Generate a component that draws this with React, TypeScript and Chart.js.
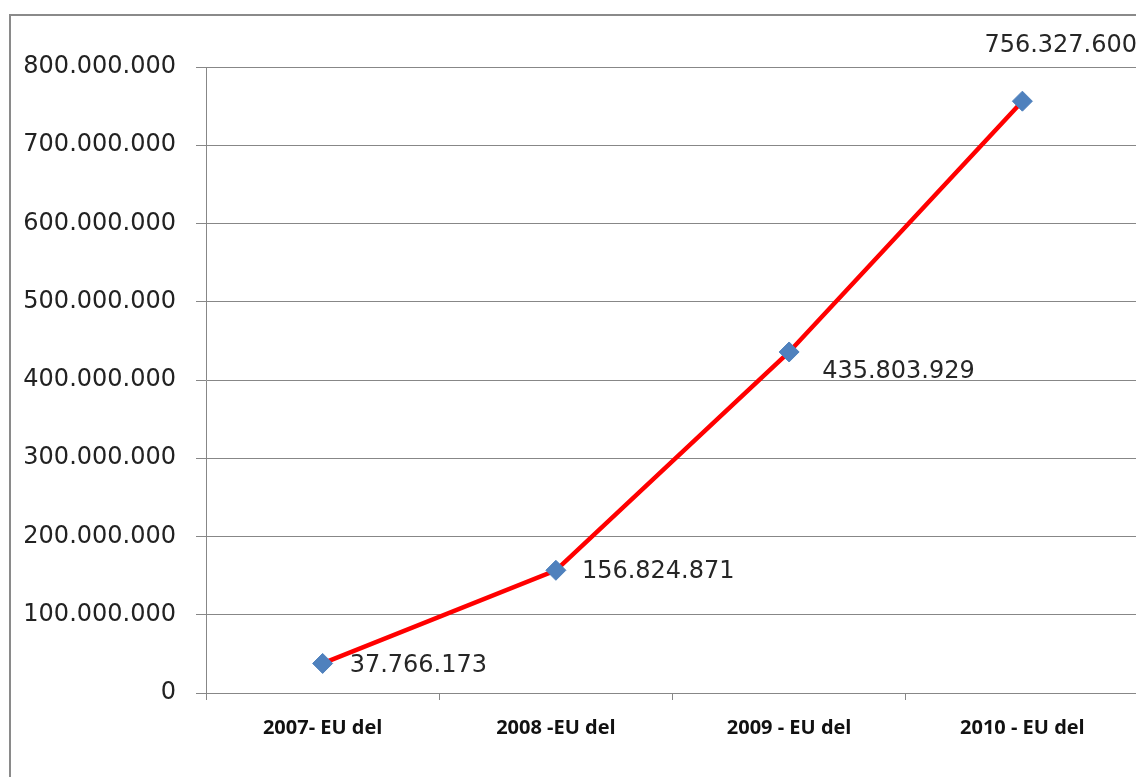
import React, { useEffect, useRef } from "react";
import { Chart, registerables } from "chart.js";

Chart.register(...registerables);

const categories = ["2007- EU del", "2008 -EU del", "2009 - EU del", "2010 - EU del"];
const values = [37766173, 156824871, 435803929, 756327600];
const yMin = 0;
const yMax = 800000000;
const yStep = 100000000;

const fmt = (v: number) => Math.round(v).toString().replace(/\B(?=(\d{3})+(?!\d))/g, ".");

// label placement relative to each point (style only)
const labelOffsets = [
  { dx: 27, dy: 2 },
  { dx: 26, dy: 1 },
  { dx: 33, dy: 20 },
  { dx: -38, dy: -55 },
];

const GRID = "#878787";
const CANVAS_W = 1150;
const CANVAS_H = 777;

const frame = {
  id: "frame",
  beforeDraw(chart: any) {
    const ctx = chart.ctx;
    ctx.save();
    ctx.fillStyle = "#ffffff";
    ctx.fillRect(0, 0, chart.width, chart.height);
    ctx.strokeStyle = "#8a8a8a";
    ctx.lineWidth = 2;
    ctx.beginPath();
    ctx.moveTo(10, chart.height + 10);
    ctx.lineTo(10, 15);
    ctx.lineTo(chart.width + 10, 15);
    ctx.stroke();
    ctx.restore();
  },
};

const dataLabels = {
  id: "dataLabels",
  afterDatasetsDraw(chart: any) {
    const ctx = chart.ctx;
    const meta = chart.getDatasetMeta(0);
    ctx.save();
    ctx.font = "24px 'DejaVu Sans'";
    ctx.fillStyle = "#262626";
    ctx.textAlign = "left";
    ctx.textBaseline = "middle";
    meta.data.forEach((pt: any, i: number) => {
      const o = labelOffsets[i];
      ctx.fillText(fmt(values[i]), pt.x + o.dx, pt.y + o.dy);
    });
    ctx.restore();
  },
};

export default function App() {
  const ref = useRef<HTMLCanvasElement>(null);
  useEffect(() => {
    if (!ref.current) return;
    const chart = new Chart(ref.current, {
      type: "line",
      data: {
        labels: categories,
        datasets: [
          {
            data: values,
            borderColor: "#ff0000",
            borderWidth: 4.5,
            pointStyle: "rectRot",
            pointRadius: 10,
            pointBackgroundColor: "#4f81bd",
            pointBorderColor: "#4f81bd",
            pointBorderWidth: 1,
            tension: 0,
          },
        ],
      },
      plugins: [frame, dataLabels],
      options: {
        responsive: false,
        animation: false,
        layout: { padding: { left: 0, top: 67, right: 0, bottom: 0 } },
        plugins: { legend: { display: false }, tooltip: { enabled: false } },
        scales: {
          x: {
            type: "category",
            offset: true,
            grid: { offset: true, drawOnChartArea: false, tickLength: 7, color: GRID },
            border: { display: true, color: GRID },
            ticks: {
              color: "#111",
              font: { family: "'Open Sans'", size: 20, weight: "bold" },
              padding: 16,
              maxRotation: 0,
            },
            afterFit: (s: any) => {
              s.height = 84;
            },
          },
          y: {
            min: yMin,
            max: yMax,
            ticks: {
              stepSize: yStep,
              color: "#222",
              font: { family: "'DejaVu Sans'", size: 24 },
              padding: 20,
              callback: (v: any) => fmt(Number(v)),
            },
            grid: { color: GRID, tickLength: 10 },
            border: { display: true, color: GRID },
            afterFit: (s: any) => {
              s.width = 206;
            },
          },
        },
      },
    });
    return () => chart.destroy();
  }, []);
  return (
    <div
      style={{
        position: "fixed",
        left: 0,
        top: 0,
        width: 1136,
        height: 777,
        overflow: "hidden",
      }}
    >
      <canvas ref={ref} width={CANVAS_W} height={CANVAS_H} style={{ display: "block" }} />
    </div>
  );
}
